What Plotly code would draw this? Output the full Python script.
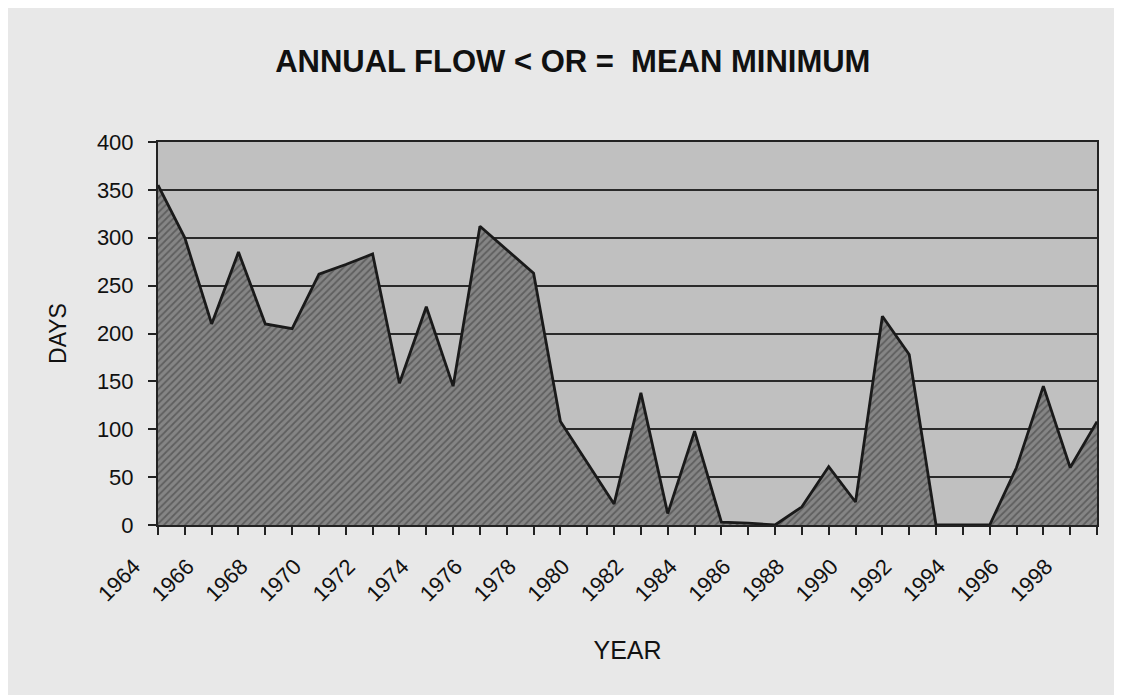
import plotly.graph_objects as go

years = list(range(1964, 2000))
days = [355, 300, 210, 285, 210, 205, 262, 272, 283, 148, 228, 145,
        312, 288, 263, 108, 65, 22, 138, 12, 98, 3, 2, 0,
        19, 61, 24, 218, 178, 0, 0, 0, 60, 145, 60, 108]
tick_labels = [str(y) if (y - 1964) % 2 == 0 else "" for y in years]
y_ticks = list(range(0, 401, 50))

fig = go.Figure()
fig.add_trace(go.Scatter(
    x=years, y=days, mode="lines", fill="tozeroy",
    line=dict(color="#1a1a1a", width=2.8),
    fillcolor="#7a7a7a",
    fillpattern=dict(shape="/", bgcolor="#858585", fgcolor="#383838",
                     size=5, solidity=0.35),
    hoverinfo="x+y", showlegend=False,
))

fig.update_layout(
    width=1114, height=687,
    margin=dict(l=150, r=25, t=134, b=170),
    paper_bgcolor="#e8e8e8",
    plot_bgcolor="#c0c0c0",
    font=dict(family="Liberation Sans, Arial, sans-serif", color="#111"),
    title=dict(text="<b>ANNUAL FLOW &lt; OR =  MEAN MINIMUM</b>",
               x=0.507, xanchor="center", y=0.922, yanchor="middle",
               font=dict(size=31, color="#111")),
    xaxis=dict(
        range=[1964, 1999], tickmode="array", tickvals=years, ticktext=tick_labels,
        tickangle=-45, ticks="outside", ticklen=8, tickcolor="#222", tickwidth=1.5,
        ticklabelstandoff=10, ticklabelshift=-24,
        tickfont=dict(size=22, color="#111"),
        showgrid=False, zeroline=False,
        showline=True, linecolor="#222", linewidth=2, mirror=True,
        title=dict(text="YEAR", font=dict(size=25, color="#111"), standoff=36),
    ),
    yaxis=dict(
        range=[0, 400], tickmode="array", tickvals=y_ticks,
        ticks="outside", ticklen=8, tickcolor="#222", tickwidth=1.5,
        ticklabelstandoff=10,
        tickfont=dict(size=22, color="#111"),
        showgrid=True, gridcolor="#2a2a2a", gridwidth=1.5,
        zeroline=False,
        showline=True, linecolor="#222", linewidth=2, mirror=True,
        title=dict(text="DAYS", font=dict(size=23, color="#111"), standoff=24),
    ),
)

fig.write_html("out.html")
